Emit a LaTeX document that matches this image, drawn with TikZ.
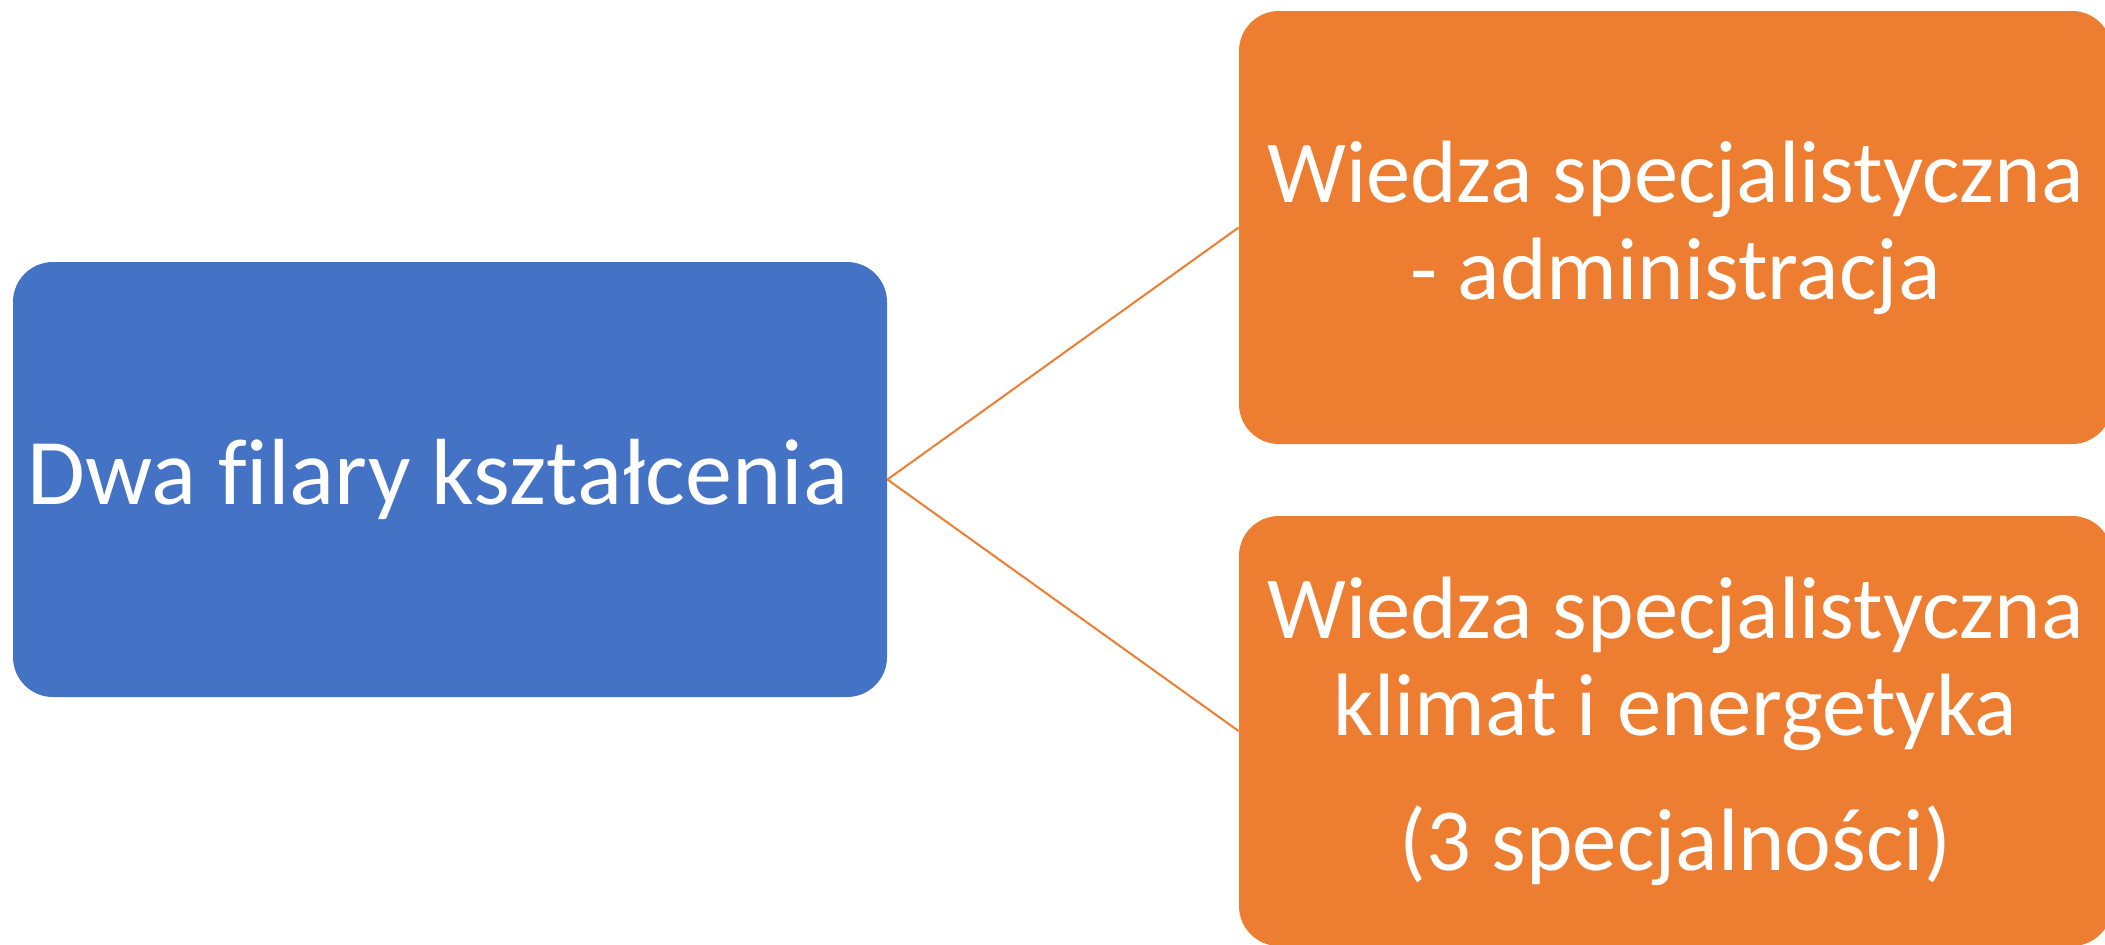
\documentclass[tikz,border=0pt]{standalone}
\usepackage{fontspec}
\setmainfont{Carlito}[Ligatures=NoCommon]
\definecolor{boxblue}{HTML}{4472C4}
\definecolor{boxorange}{HTML}{ED7D31}
\begin{document}
\begin{tikzpicture}[x=0.5pt,y=-0.5pt,
  pillar/.style={rectangle, rounded corners=20pt, fill=#1, draw=none,
    text=white, align=center, inner sep=0pt, anchor=center,
    font=\fontsize{44.3}{48.5}\selectfont},
  link/.style={draw=boxorange, line width=1pt}]
\useasboundingbox (0,0) rectangle (2105,944);
\node[pillar=boxblue, minimum width=437pt, minimum height=217.5pt,
  font=\fontsize{47}{50}\selectfont] (root) at (450,479.5) {Dwa filary kształcenia\hspace*{12pt}};
\node[pillar=boxorange, minimum width=436.5pt, minimum height=216.5pt] (top) at (1675.5,227.5) {Wiedza specjalistyczna\\- administracja};
\node[pillar=boxorange, minimum width=436.5pt, minimum height=215pt] (bot) at (1675.5,731) {Wiedza specjalistyczna\\klimat i energetyka\\[19pt](3 specjalności)};
\draw[link] (root.east) -- (top.west);
\draw[link] (root.east) -- (bot.west);
\end{tikzpicture}
\end{document}
